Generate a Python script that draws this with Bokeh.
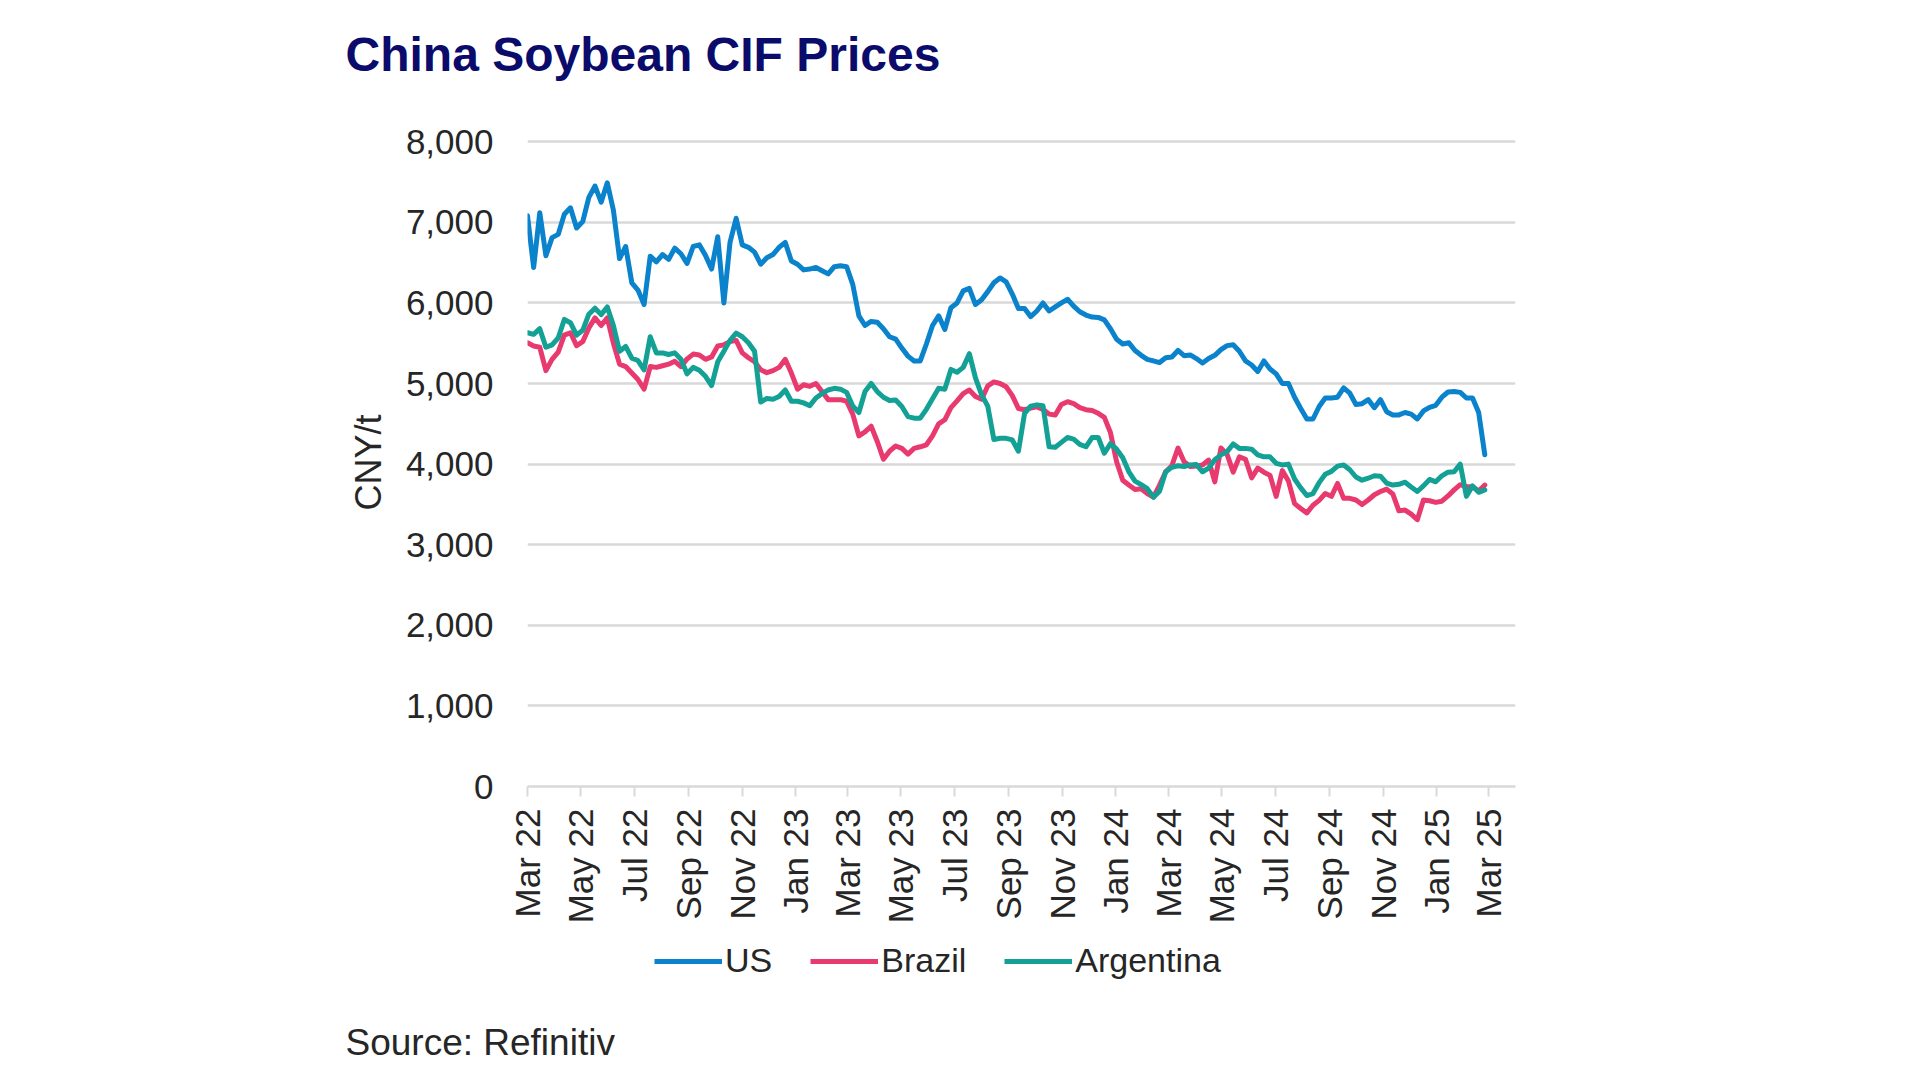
import pandas as pd
from bokeh.plotting import figure
from bokeh.layouts import column
from bokeh.models import (ColumnDataSource, FixedTicker, NumeralTickFormatter, Plot,
                          DatetimeTickFormatter, Legend, LegendItem, Title, Label, Range1d)
from bokeh.embed import file_html
from bokeh.resources import INLINE

# ---------------- data ----------------
title_text = "China Soybean CIF Prices"
source_text = "Source: Refinitiv"
y_label = "CNY/t"
series_names = ["US", "Brazil", "Argentina"]
series_colors = ["#0A82CC", "#E93A6F", "#13A095"]
start_date = "2022-03-01"
x_start = "2022-03-01"
x_end = "2025-04-01"
tick_labels = ["Mar 22", "May 22", "Jul 22", "Sep 22", "Nov 22", "Jan 23", "Mar 23",
               "May 23", "Jul 23", "Sep 23", "Nov 23", "Jan 24", "Mar 24", "May 24",
               "Jul 24", "Sep 24", "Nov 24", "Jan 25", "Mar 25"]
y_ticks = [0, 1000, 2000, 3000, 4000, 5000, 6000, 7000, 8000]

us = [7080, 6440, 7120, 6585, 6810, 6850, 7100, 7180, 6930, 7010, 7310, 7450, 7250, 7490,
      7150, 6550, 6700, 6250, 6160, 5980, 6580, 6510, 6600, 6540, 6680, 6610, 6490, 6700,
      6720, 6590, 6420, 6820, 6000, 6750, 7050, 6720, 6690, 6630, 6480, 6560, 6600, 6690,
      6750, 6520, 6480, 6410, 6420, 6440, 6400, 6360, 6450, 6460, 6450, 6230, 5840, 5720,
      5770, 5760, 5680, 5580, 5550, 5440, 5340, 5280, 5280, 5490, 5720, 5840, 5670, 5940,
      6000, 6150, 6180, 5980, 6040, 6140, 6250, 6310, 6260, 6110, 5930, 5930,
      5830, 5900, 6000, 5900, 5950, 6000, 6045, 5960, 5890, 5850, 5825, 5820, 5790, 5680,
      5550, 5490, 5505, 5410, 5350, 5300, 5280, 5260, 5320, 5330, 5410, 5345, 5355, 5310,
      5255, 5310, 5350, 5420, 5470, 5480, 5400, 5280, 5230, 5150, 5280, 5180,
      5120, 5000, 5000, 4830, 4690, 4560, 4560, 4715, 4820, 4820, 4830, 4945, 4880, 4740,
      4750, 4800, 4700, 4800, 4650, 4610, 4610, 4640, 4620, 4560, 4660, 4705, 4730, 4830,
      4895, 4900, 4890, 4820, 4820, 4640, 4115]

brazil = [5505, 5465, 5450, 5160, 5300, 5390, 5600, 5630, 5470, 5520, 5690, 5815, 5720, 5815,
          5500, 5240, 5210, 5130, 5050, 4930, 5210, 5200, 5220, 5240, 5275, 5210, 5305, 5365,
          5355, 5300, 5330, 5465, 5480, 5520, 5535, 5380, 5320, 5270, 5170, 5135, 5160, 5200,
          5300, 5130, 4930, 4985, 4965, 5000, 4900, 4800, 4800, 4800, 4780, 4620, 4350, 4400,
          4470, 4280, 4060, 4160, 4225, 4195, 4125, 4195, 4215, 4240, 4350, 4500, 4550, 4700,
          4785, 4875, 4920, 4840, 4805, 4970, 5020, 5000, 4960, 4850, 4690, 4675,
          4695, 4710, 4680, 4620, 4610, 4740, 4775, 4750, 4700, 4675, 4665, 4630, 4580, 4390,
          4030, 3800, 3740, 3685, 3695, 3635, 3590, 3740, 3905, 3980, 4200, 4030, 3970, 3975,
          3990, 4050, 3780, 4200, 4120, 3900, 4090, 4060, 3830, 3950, 3900, 3860,
          3600, 3920, 3790, 3510, 3450, 3395, 3490, 3550, 3635, 3600, 3760, 3575, 3575, 3555,
          3500, 3555, 3620, 3660, 3690, 3630, 3420, 3430, 3380, 3310, 3555, 3545, 3525, 3540,
          3605, 3680, 3745, 3720, 3720, 3665, 3740]

argentina = [5630, 5610, 5680, 5450, 5480, 5565, 5795, 5755, 5600, 5660, 5860, 5935, 5855, 5950,
             5720, 5400, 5460, 5315, 5285, 5170, 5580, 5380, 5380, 5360, 5380, 5300, 5120, 5200,
             5165, 5090, 4975, 5270, 5400, 5535, 5625, 5580, 5505, 5400, 4770, 4815, 4805, 4840,
             4920, 4780, 4780, 4760, 4725, 4820, 4875, 4920, 4940, 4930, 4890, 4720, 4640, 4900,
             5000, 4900, 4830, 4790, 4795, 4715, 4590, 4570, 4570, 4680, 4810, 4940, 4930, 5175,
             5140, 5200, 5370, 5070, 4860, 4720, 4305, 4320, 4320, 4300, 4160, 4630,
             4720, 4735, 4725, 4215, 4210, 4270, 4330, 4310, 4245, 4215, 4330, 4330, 4135, 4255,
             4185, 4080, 3905, 3790, 3745, 3695, 3590, 3665, 3905, 3960, 3980, 3970, 3990, 3995,
             3905, 3950, 4055, 4115, 4155, 4250, 4195, 4195, 4185, 4115, 4090, 4090,
             4010, 3990, 4000, 3815, 3705, 3610, 3635, 3770, 3875, 3910, 3975, 3990, 3930, 3840,
             3800, 3825, 3855, 3850, 3765, 3740, 3750, 3775, 3715, 3660, 3730, 3810, 3780, 3855,
             3900, 3905, 4000, 3600, 3730, 3650, 3680]

# ---------------- build ----------------
dates = pd.date_range(start_date, periods=len(us), freq="7D")
source = ColumnDataSource(dict(date=dates, US=us, Brazil=brazil, Argentina=argentina))

tick_dates = [pd.to_datetime(t, format="%b %y") for t in tick_labels]
tick_ms = [t.timestamp() * 1000 for t in tick_dates]

FONT = "Liberation Sans"
TXT = "#262626"
GRID = "#d9d9d9"
TITLE_COLOR = "#0B0B6B"
LW = 5

W = 1904
H_TOP = 110
H_MAIN = 830
H_LEG = 124

HAS_FA = "frame_align" in Plot.properties()

x_range = Range1d(pd.Timestamp(x_start), pd.Timestamp(x_end))


def strip(height):
    s = figure(width=W, height=height, output_backend="svg", toolbar_location=None,
               x_axis_type="datetime", x_range=x_range, y_range=Range1d(0, 1),
               x_axis_location=None, y_axis_location=None,
               min_border_left=0, min_border_right=0, min_border_top=0, min_border_bottom=0)
    if HAS_FA:
        s.frame_align = False
    s.outline_line_color = None
    s.xgrid.grid_line_color = None
    s.ygrid.grid_line_color = None
    s.background_fill_color = "white"
    s.border_fill_color = "white"
    return s


# ---- main chart ----
p = figure(width=W, height=H_MAIN if HAS_FA else H_MAIN + H_TOP,
           output_backend="svg", toolbar_location=None,
           x_axis_type="datetime", x_range=x_range,
           y_range=Range1d(y_ticks[0], y_ticks[-1] + 40),
           min_border_left=527, min_border_right=389,
           min_border_top=28 if HAS_FA else 138, min_border_bottom=154)
p.outline_line_color = None
p.background_fill_color = "white"
p.border_fill_color = "white"

for name, col in zip(series_names, series_colors):
    p.line("date", name, source=source, line_color=col, line_width=LW,
           line_join="round", line_cap="round")

yax = p.yaxis[0]
yax.ticker = FixedTicker(ticks=y_ticks)
yax.formatter = NumeralTickFormatter(format="0,0")
yax.axis_line_color = None
yax.major_tick_line_color = None
yax.minor_tick_line_color = None
yax.major_tick_out = 0
yax.major_tick_in = 0
yax.major_label_standoff = 34
yax.major_label_text_font = FONT
yax.major_label_text_font_size = "35px"
yax.major_label_text_color = TXT
yax.axis_label = y_label
yax.axis_label_text_font = FONT
yax.axis_label_text_font_size = "36px"
yax.axis_label_text_font_style = "normal"
yax.axis_label_text_color = TXT
yax.axis_label_standoff = 14

xax = p.xaxis[0]
xax.ticker = FixedTicker(ticks=tick_ms)
fmt = "%b %y"
xax.formatter = DatetimeTickFormatter(milliseconds=fmt, seconds=fmt, minsec=fmt, minutes=fmt,
                                      hourmin=fmt, hours=fmt, days=fmt, months=fmt, years=fmt)
xax.major_label_orientation = 3.14159265 / 2
xax.axis_line_color = GRID
xax.axis_line_width = 2.5
xax.major_tick_line_color = GRID
xax.major_tick_line_width = 2
xax.major_tick_out = 10
xax.major_tick_in = 0
xax.minor_tick_line_color = None
xax.major_label_standoff = 12
xax.major_label_text_font = FONT
xax.major_label_text_font_size = "35px"
xax.major_label_text_color = TXT

p.xgrid.grid_line_color = None
p.ygrid.ticker = FixedTicker(ticks=y_ticks)
p.ygrid.grid_line_color = GRID
p.ygrid.grid_line_width = 2.5

# ---- legend + source strip ----
q = strip(H_LEG)
leg_renderers = []
for name, col in zip(series_names, series_colors):
    r = q.line("date", name, source=source, line_color=col, line_width=LW, visible=False)
    leg_renderers.append(r)

leg_x = 654 if HAS_FA else 127
legend = Legend(items=[LegendItem(label=n, renderers=[r]) for n, r in zip(series_names, leg_renderers)],
                orientation="horizontal", location=(leg_x, 84),
                glyph_width=68, glyph_height=34, label_height=34, label_standoff=3,
                spacing=38, padding=0, margin=0,
                label_text_font=FONT, label_text_font_size="34px", label_text_color=TXT,
                background_fill_alpha=0, border_line_color=None,
                inactive_fill_alpha=0)
q.add_layout(legend, "center")

if HAS_FA:
    top = strip(H_TOP)
    top.add_layout(Label(x=345, y=56, x_units="screen", y_units="screen", text=title_text,
                         text_font=FONT, text_font_size="48px", text_font_style="bold",
                         text_color=TITLE_COLOR, text_baseline="alphabetic", text_align="left"))
    q.add_layout(Label(x=345, y=22, x_units="screen", y_units="screen", text=source_text,
                       text_font=FONT, text_font_size="37px", text_color=TXT,
                       text_baseline="alphabetic", text_align="left"))
    layout = column(top, p, q, spacing=0)
else:
    p.add_layout(Title(text=title_text, align="left", offset=-182, standoff=84,
                       vertical_align="top", text_font=FONT, text_font_size="48px",
                       text_font_style="bold", text_color=TITLE_COLOR), "above")
    q.add_layout(Title(text=source_text, align="left", offset=-182, standoff=0,
                       vertical_align="bottom", text_font=FONT, text_font_size="37px",
                       text_font_style="normal", text_color=TXT), "below")
    layout = column(p, q, spacing=0)

open("out.html", "w").write(file_html(layout, INLINE))
